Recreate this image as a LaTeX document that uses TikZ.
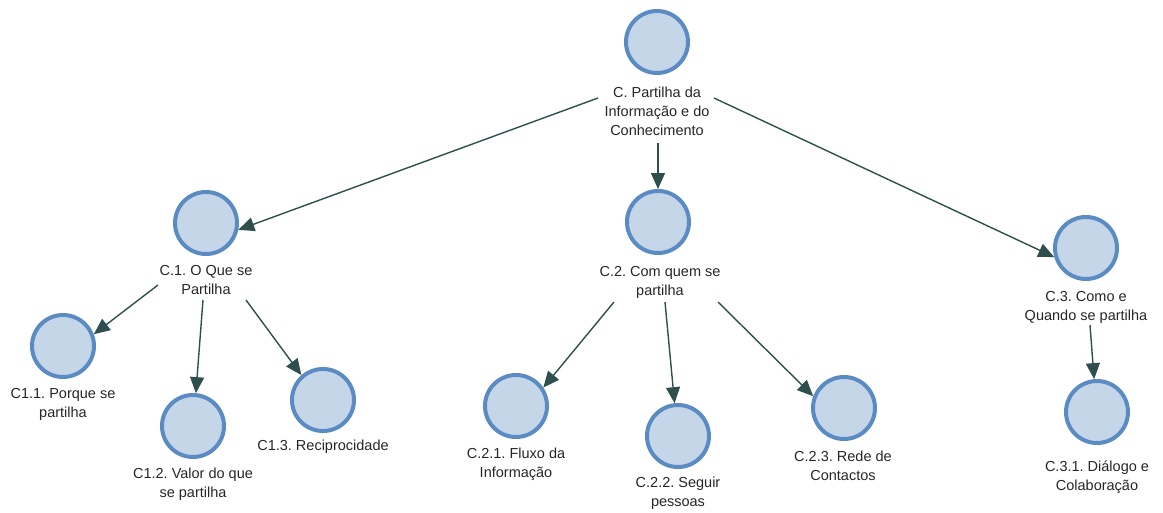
\documentclass[tikz,border=0pt]{standalone}
\usepackage{fontspec}
\setmainfont{Liberation Sans}
\usetikzlibrary{arrows.meta}
\definecolor{circfill}{HTML}{C6D6E9}
\definecolor{circdraw}{HTML}{5B8BC3}
\definecolor{arrcol}{HTML}{2F4F4F}
\frenchspacing
\begin{document}
\begin{tikzpicture}[x=1pt,y=-1pt,
  topic/.style={circle,draw=circdraw,fill=circfill,line width=4pt,minimum size=62pt,inner sep=0pt},
  lab/.style={align=center,inner sep=0pt,font=\fontsize{14.5pt}{19pt}\selectfont,text=black!85},
  arr/.style={draw=arrcol,line width=1.4pt,-{Triangle[length=16pt,width=14pt]}}]
\useasboundingbox (0,0) rectangle (1163,512);
% nodes
\node[topic] (C) at (657,42) {};
\node[lab] (Clab) at (657,111) {C. Partilha da\\Informação e do\\Conhecimento};
\node[topic] (C1) at (206,223) {};
\node[lab] (C1lab) at (206,280) {C.1. O Que se\\Partilha};
\node[topic] (C11) at (63,346) {};
\node[lab] (C11lab) at (63,404) {C1.1. Porque se\\partilha};
\node[topic] (C12) at (193,426) {};
\node[lab] (C12lab) at (193,484) {C1.2. Valor do que\\se partilha};
\node[topic] (C13) at (323,400) {};
\node[lab] (C13lab) at (323,447) {C1.3. Reciprocidade};
\node[topic] (C2) at (658,222) {};
\node[lab] (C2lab) at (660,282) {C.2. Com quem se\\partilha};
\node[topic] (C21) at (516,406) {};
\node[lab] (C21lab) at (516,464) {C.2.1. Fluxo da\\Informação};
\node[topic] (C22) at (678,436) {};
\node[lab] (C22lab) at (678,493) {C.2.2. Seguir\\pessoas};
\node[topic] (C23) at (844,408) {};
\node[lab] (C23lab) at (843,466) {C.2.3. Rede de\\Contactos};
\node[topic] (C3) at (1086,248) {};
\node[lab] (C3lab) at (1086,307) {C.3. Como e\\Quando se partilha};
\node[topic] (C31) at (1097,412) {};
\node[lab] (C31lab) at (1097,477) {C.3.1. Diálogo e\\Colaboração};
% connector start points
\coordinate (sC1) at (598,98);
\coordinate (sC2) at (658,143);
\coordinate (sC3) at (714,98);
\coordinate (s11) at (158,285);
\coordinate (s12) at (203,300);
\coordinate (s13) at (246,300);
\coordinate (s21) at (614,302);
\coordinate (s22) at (665,302);
\coordinate (s23) at (718,302);
\coordinate (s31) at (1090,325);
% connectors
\draw[arr] (sC1) -- (C1.-12);
\draw[arr] (sC2) -- (C2.90);
\draw[arr] (sC3) -- (C3.196);
\draw[arr] (s11) -- (C11.21);
\draw[arr] (s12) -- (C12.85);
\draw[arr] (s13) -- (C13.131);
\draw[arr] (s21) -- (C21.34);
\draw[arr] (s22) -- (C22.96);
\draw[arr] (s23) -- (C23.159);
\draw[arr] (s31) -- (C31.95);
\end{tikzpicture}
\end{document}
